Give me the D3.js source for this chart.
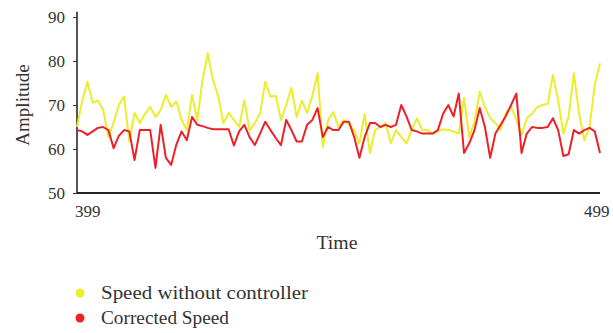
<!DOCTYPE html>
<html>
<head>
<meta charset="utf-8">
<script src="https://cdn.jsdelivr.net/npm/d3@7"></script>
<style>
  html, body { margin: 0; padding: 0; background: #fff; }
  svg text { font-family: "Liberation Serif", "Times New Roman", serif; fill: #333; }
</style>
</head>
<body>
<div id="svg-container"></div>
<script>
// time runs 399 .. 499, one sample per step
const timeStart = 399;
const timeEnd = 499;
const xTickLabels = [399, 499];
const yTicks = [50, 60, 70, 80, 90];

const speedWithoutController = [
  65, 71, 75.3, 70.5, 71, 68.9, 62.7, 66, 70, 71.9,
  61.7, 68.2, 65.9, 68, 69.6, 67.3, 68.9, 72.3, 69.6, 70.8,
  66.6, 64.3, 72.3, 66.6, 75.7, 81.8, 75.7, 72, 65.9, 68.2,
  66.6, 65, 71.1, 64.3, 65.9, 68, 75.3, 71.9, 72.1, 66.6,
  70, 73.9, 67.3, 71, 68.2, 72.1, 77.2, 60.5, 66.6, 68.4,
  65, 66.6, 65.5, 64.3, 61.3, 67.9, 59.1, 64.3, 65, 65.9,
  61.3, 64.3, 62.7, 61.3, 64.3, 67, 64.3, 64.3, 63.5, 64,
  64.5, 64.3, 64, 63.5, 71.6, 62.7, 66.2, 73, 69.6, 67,
  65.9, 64.3, 68.2, 69.6, 66.6, 63.2, 67, 68, 69.5, 70,
  70.3, 76.8, 71.1, 63.5, 67.4, 77.2, 68.2, 62, 65, 74.6,
  79.5
];

const correctedSpeed = [
  64.3, 64, 63.2, 64, 64.8, 65, 64.3, 60.2, 63, 64.3,
  64, 57.5, 64.3, 64.3, 64.3, 55.7, 65.5, 58, 56.4, 61,
  64, 62, 67.3, 65.5, 65.2, 64.8, 64.5, 64.5, 64.5, 64.5,
  60.8, 64, 65.5, 62.7, 60.9, 63.5, 66.2, 64.3, 62.5, 60.9,
  66.6, 64.3, 61.7, 61.7, 65.5, 66.6, 69.3, 62.7, 65, 64.3,
  64.3, 66.2, 66.2, 62.7, 58, 62.7, 65.9, 65.9, 65, 65.5,
  65, 65.5, 70, 67.4, 64.3, 64, 63.5, 63.5, 63.5, 64.3,
  68, 70, 67.4, 72.6, 59.1, 61.3, 64.3, 69.3, 65, 58,
  63.5, 65.5, 67.5, 70, 72.6, 59.1, 63.5, 65, 64.8, 64.8,
  65, 67, 64.3, 58.4, 58.8, 64.3, 63.5, 64.3, 64.8, 64,
  59.1
];

const seriesNames = ["Speed without controller", "Corrected Speed"];
const seriesColors = ["#eaee2c", "#ec2228"];

const width = 613;
const height = 333;
const margin = {top: 17, right: 13, bottom: 140, left: 77};

const svg = d3.select("#svg-container")
  .append("svg")
  .attr("width", width)
  .attr("height", height);

const x = d3.scaleLinear()
  .domain([timeStart, timeEnd])
  .range([margin.left, width - margin.right]);

const y = d3.scaleLinear()
  .domain([50, 90])
  .range([height - margin.bottom, margin.top]);

const time = d3.range(timeStart, timeEnd + 1);

// Y axis
const yAxis = svg.append("g")
  .attr("transform", `translate(${margin.left},0)`)
  .call(d3.axisLeft(y).tickValues(yTicks).tickSize(4).tickSizeOuter(0).tickPadding(8));
yAxis.select(".domain").remove();
yAxis.selectAll(".tick line").attr("stroke", "#333");
yAxis.selectAll("text")
  .style("font-size", "17px")
  .style("font-family", "Liberation Serif, serif")
  .attr("fill", "#3a3a3a");

svg.append("line")
  .attr("x1", margin.left).attr("x2", margin.left)
  .attr("y1", y(91.2)).attr("y2", y(50))
  .attr("stroke", "#2a2a2a")
  .attr("stroke-width", 1.6);

// X axis
svg.append("line")
  .attr("x1", x(timeStart)).attr("x2", x(timeEnd))
  .attr("y1", y(50)).attr("y2", y(50))
  .attr("stroke", "#222")
  .attr("stroke-width", 2);

svg.selectAll(".xlabel")
  .data(xTickLabels)
  .enter()
  .append("text")
  .attr("class", "xlabel")
  .attr("x", (d, i) => i === 0 ? x(d) - 2 : x(d) - 16)
  .attr("y", y(50) + 24)
  .style("font-size", "17px")
  .text(d => d);

svg.append("text")
  .attr("x", 337)
  .attr("y", 249)
  .attr("text-anchor", "middle")
  .attr("textLength", 41)
  .attr("lengthAdjust", "spacingAndGlyphs")
  .style("font-size", "18px")
  .text("Time");

svg.append("text")
  .attr("transform", `translate(29, ${y(70)}) rotate(-90)`)
  .attr("text-anchor", "middle")
  .style("font-size", "19px")
  .text("Amplitude");

// Lines
const line = d3.line()
  .x((d, i) => x(time[i]))
  .y(d => y(d));

[speedWithoutController, correctedSpeed].forEach((series, k) => {
  svg.append("path")
    .datum(series)
    .attr("fill", "none")
    .attr("stroke", seriesColors[k])
    .attr("stroke-width", 2)
    .attr("stroke-linejoin", "round")
    .attr("d", line);
});

// Legend
const legendWidths = [207, 128];
const legend = svg.append("g");
seriesNames.forEach((name, k) => {
  const ly = 293 + k * 25;
  legend.append("circle")
    .attr("cx", 80)
    .attr("cy", ly)
    .attr("r", 4.5)
    .attr("fill", seriesColors[k]);
  legend.append("text")
    .attr("x", 101)
    .attr("y", ly + 6)
    .attr("textLength", legendWidths[k])
    .attr("lengthAdjust", "spacingAndGlyphs")
    .style("font-size", "19px")
    .text(name);
});
</script>
</body>
</html>
